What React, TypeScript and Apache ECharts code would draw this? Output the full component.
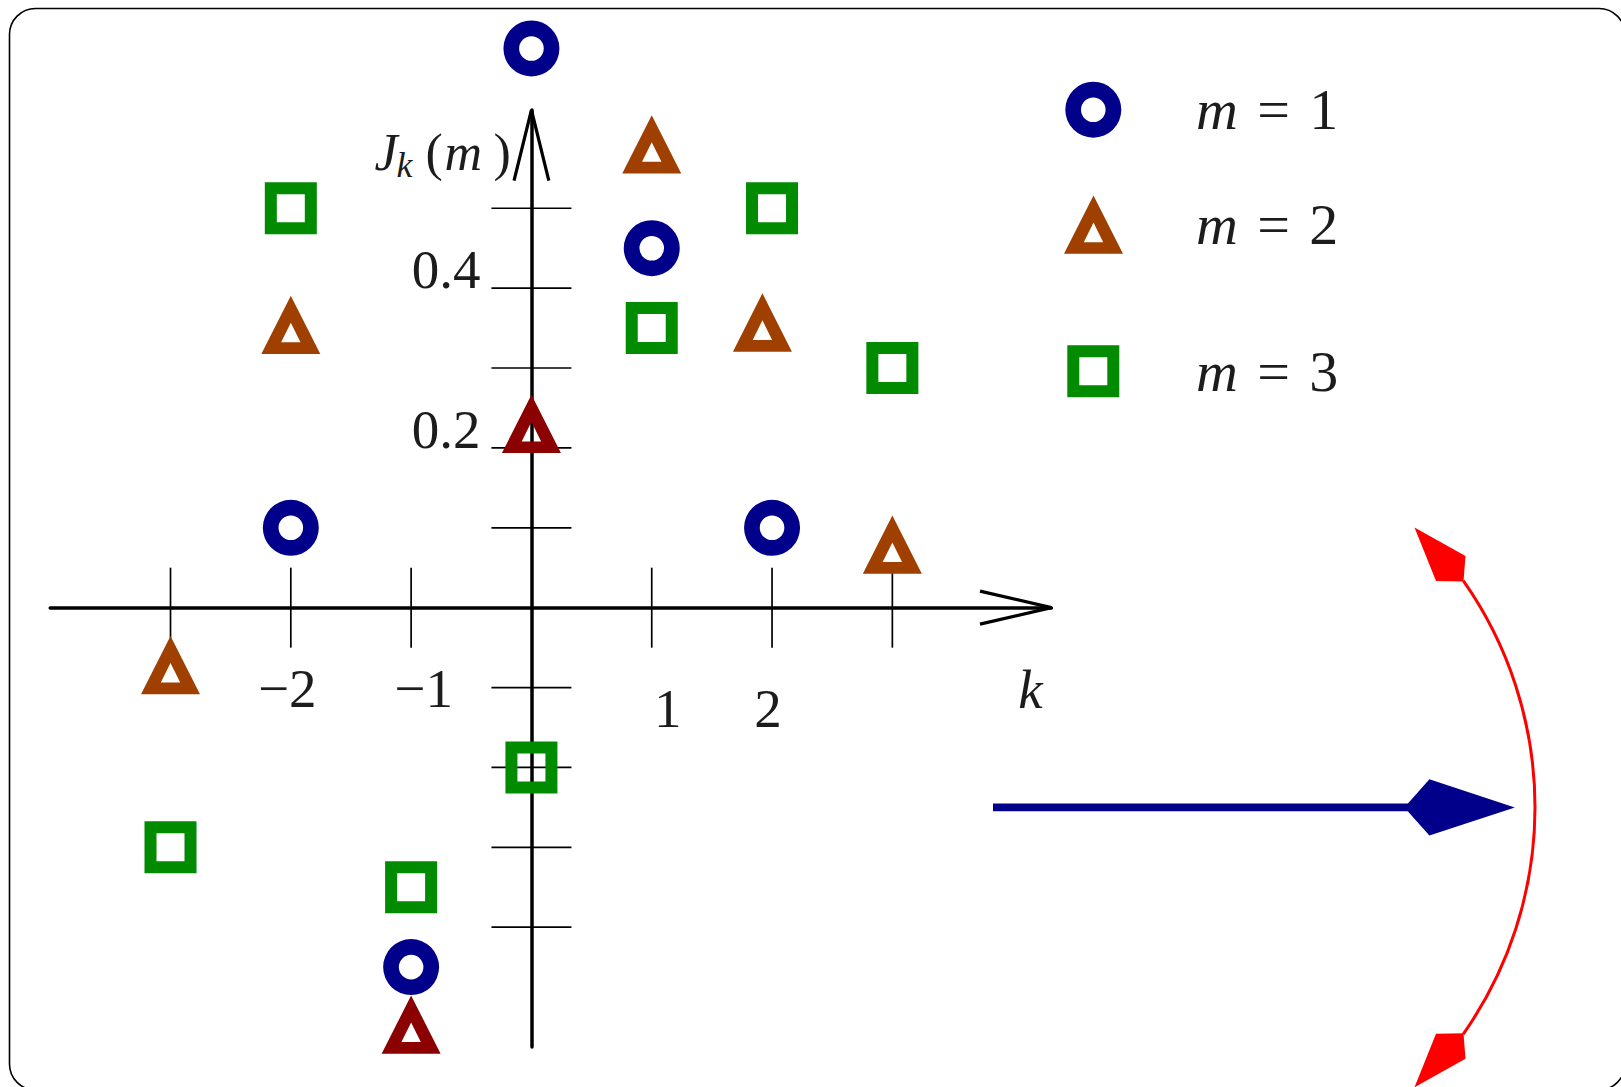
import { useEffect, useRef } from 'react';
import * as echarts from 'echarts';

// Bessel-style coefficients J_k(m), read per order k
const K_M1 = [-2, -1, 0, 1, 2];
const J_M1 = [0.1, -0.45, 0.7, 0.45, 0.1];

const K_M2 = [-3, -2, -1, 0, 1, 1.92, 3];
const J_M2 = [-0.072, 0.354, -0.522, 0.23, 0.58, 0.357, 0.079];

const K_M3 = [-3, -2, -1, 0, 1, 2, 3];
const J_M3 = [-0.3, 0.5, -0.35, -0.2, 0.35, 0.5, 0.3];

const SERIES_NAMES = ['m = 1', 'm = 2', 'm = 3'];

// axis ticks and their labels
const X_TICKS = [-3, -2, -1, 1, 2, 3];
const Y_TICKS = [-0.4, -0.3, -0.2, -0.1, 0.1, 0.2, 0.3, 0.4, 0.5];
const X_LABEL_VALUES = [-2, -1, 1, 2];
const X_LABELS = ['\u22122', '\u22121', '1', '2'];
const Y_LABEL_VALUES = [0.2, 0.4];
const Y_LABELS = ['0.2', '0.4'];

// axis extents (arrow tips sit at the max ends)
const X_MIN = -4;
const X_MAX = 4.322;
const Y_MIN = -0.55;
const Y_MAX = 0.623;

// ---- styling ----
const FONT = '"Liberation Serif", "DejaVu Serif", serif';
const INK = '#1c1c1c';
const NAVY = '#00008b';
const BROWN = '#a04000';
const DARK_RED = '#8b0000';
const GREEN = '#008b00';
const RED = '#ff0000';
const DARK_TRIANGLE_AT = new Set([-1, 0]);

// hollow marker outlines (outer contour + reversed inner contour)
const RING_PATH =
  'path://M0 28A28 28 0 1 1 56 28A28 28 0 1 1 0 28ZM15.7 28A12.3 12.3 0 1 0 40.3 28A12.3 12.3 0 1 0 15.7 28Z';
const TRIANGLE_PATH = 'path://M29.5 0L59 58.3L0 58.3ZM29.5 27L19.8 46.6L39.2 46.6Z';
const SQUARE_PATH = 'path://M0 0H52V52H0ZM12 12V40H40V12Z';

const RING_SIZE = [56, 56];
const TRIANGLE_SIZE = [59, 58.3];
const SQUARE_SIZE = [52, 52];

const TICK_HALF = 40;
const LABEL_SIZE = 55;
const LEGEND_TEXT_X = 1196;

// per-label nudges for the k tick labels: [dx, baseline below axis]
const X_LABEL_NUDGE = [
  [-3.5, 100],
  [12.5, 100],
  [16, 120],
  [-4, 120],
];

function txt(
  x: number,
  baseline: number,
  str: string,
  size: number,
  italic: boolean,
  align: string
) {
  return {
    type: 'text',
    x,
    y: baseline - 0.34 * size,
    style: {
      text: str,
      fill: INK,
      fontFamily: FONT,
      fontSize: size,
      fontStyle: italic ? 'italic' : 'normal',
      align,
      verticalAlign: 'middle',
    },
  };
}

function renderAxesDecor(_params: any, api: any) {
  const children: any[] = [];
  const tickStyle = { stroke: '#000', lineWidth: 1.7 };

  X_TICKS.forEach((k) => {
    const p = api.coord([k, 0]);
    children.push({
      type: 'line',
      shape: { x1: p[0], y1: p[1] - TICK_HALF, x2: p[0], y2: p[1] + TICK_HALF },
      style: tickStyle,
    });
  });
  Y_TICKS.forEach((v) => {
    const p = api.coord([0, v]);
    children.push({
      type: 'line',
      shape: { x1: p[0] - TICK_HALF, y1: p[1], x2: p[0] + TICK_HALF, y2: p[1] },
      style: tickStyle,
    });
  });

  // open arrowheads at the positive ends of both axes
  const xe = api.coord([X_MAX, 0]);
  children.push({
    type: 'polyline',
    shape: {
      points: [
        [xe[0] - 71.4, xe[1] - 16.5],
        [xe[0], xe[1]],
        [xe[0] - 71.4, xe[1] + 16.5],
      ],
    },
    style: { stroke: '#000', lineWidth: 3.2, fill: 'none', lineJoin: 'miter' },
  });
  const ye = api.coord([0, Y_MAX]);
  children.push({
    type: 'polyline',
    shape: {
      points: [
        [ye[0] - 17.4, ye[1] + 70.7],
        [ye[0], ye[1]],
        [ye[0] + 17.4, ye[1] + 70.7],
      ],
    },
    style: { stroke: '#000', lineWidth: 3.2, fill: 'none', lineJoin: 'miter' },
  });

  // tick labels
  X_LABEL_VALUES.forEach((k, i) => {
    const p = api.coord([k, 0]);
    const [dx, drop] = X_LABEL_NUDGE[i];
    children.push(txt(p[0] + dx, p[1] + drop, X_LABELS[i], LABEL_SIZE, false, 'center'));
  });
  Y_LABEL_VALUES.forEach((v, i) => {
    const p = api.coord([0, v]);
    children.push(txt(p[0] - 51, p[1], Y_LABELS[i], LABEL_SIZE, false, 'right'));
  });

  // axis names
  children.push(txt(xe[0] - 21, xe[1] + 101, 'k', LABEL_SIZE, true, 'center'));
  children.push(txt(ye[0] - 157, ye[1] + 60, 'J', 52, true, 'left'));
  children.push(txt(ye[0] - 135, ye[1] + 67, 'k', 36, true, 'left'));
  children.push(txt(ye[0] - 106, ye[1] + 60, '(', 52, false, 'left'));
  children.push(txt(ye[0] - 87, ye[1] + 60, 'm', 52, true, 'left'));
  children.push(txt(ye[0] - 38, ye[1] + 60, ')', 52, false, 'left'));

  return { type: 'group', children };
}

const LEGEND_ROWS = [
  { name: SERIES_NAMES[0], cx: 1093.3, cy: 108.7, w: RING_SIZE[0], h: RING_SIZE[1] },
  { name: SERIES_NAMES[1], cx: 1093.5, cy: 224.7, w: TRIANGLE_SIZE[0], h: TRIANGLE_SIZE[1] },
  { name: SERIES_NAMES[2], cx: 1093.3, cy: 368.3, w: SQUARE_SIZE[0], h: SQUARE_SIZE[1] },
];

function buildOption() {
  const pairs = (ks: number[], js: number[]) => ks.map((k, i) => [k, js[i]]);

  return {
    animation: false,
    backgroundColor: '#ffffff',
    grid: {
      left: 50.2,
      top: 110,
      width: 1001.2,
      height: 937,
      containLabel: false,
      outerBoundsMode: 'none',
    },
    xAxis: {
      type: 'value',
      min: X_MIN,
      max: X_MAX,
      axisLine: { show: true, onZero: true, lineStyle: { color: '#000', width: 3.5 } },
      axisTick: { show: false },
      axisLabel: { show: false },
      splitLine: { show: false },
    },
    yAxis: {
      type: 'value',
      min: Y_MIN,
      max: Y_MAX,
      axisLine: { show: true, onZero: true, lineStyle: { color: '#000', width: 3.5 } },
      axisTick: { show: false },
      axisLabel: { show: false },
      splitLine: { show: false },
    },
    legend: LEGEND_ROWS.map((r) => ({
      data: [r.name],
      left: r.cx - r.w / 2,
      top: r.cy - r.h / 2,
      padding: 0,
      itemWidth: r.w,
      itemHeight: r.h,
      selectedMode: false,
      // math-style spacing around the equals sign
      formatter: (n: string) => n.replace(/^m/, '{i|m}').replace(/ /g, '\u2004'),
      textStyle: {
        fontFamily: FONT,
        fontSize: 58,
        color: INK,
        padding: [0, 0, 0, LEGEND_TEXT_X - (r.cx + r.w / 2) - 5],
        rich: {
          i: { fontFamily: FONT, fontSize: 58, fontStyle: 'italic', color: INK },
        },
      },
    })),
    graphic: [
      // rounded frame, running off the right and bottom edges
      {
        type: 'rect',
        silent: true,
        z: -10,
        shape: { x: 9.5, y: 8.5, width: 1615.5, height: 1081.5, r: 26 },
        style: { fill: 'none', stroke: '#000', lineWidth: 1.6 },
      },
      // blue arrow
      {
        type: 'line',
        silent: true,
        shape: { x1: 993, y1: 807.4, x2: 1410, y2: 807.4 },
        style: { stroke: NAVY, lineWidth: 7.8 },
      },
      {
        type: 'polygon',
        silent: true,
        shape: {
          points: [
            [1514.8, 807.4],
            [1429.4, 779.3],
            [1404.4, 807.4],
            [1429.4, 835.5],
          ],
        },
        style: { fill: NAVY },
      },
      // red arc with arrowheads at both ends
      {
        type: 'arc',
        silent: true,
        shape: { cx: 1141, cy: 807.4, r: 394, startAngle: -0.613, endAngle: 0.613, clockwise: true },
        style: { stroke: RED, lineWidth: 3, fill: 'none' },
      },
      {
        type: 'polygon',
        silent: true,
        shape: {
          points: [
            [1414.5, 527.5],
            [1465.5, 556],
            [1463.5, 581.5],
            [1436, 581],
          ],
        },
        style: { fill: RED },
      },
      {
        type: 'polygon',
        silent: true,
        shape: {
          points: [
            [1414.5, 1087.3],
            [1465.5, 1058.8],
            [1463.5, 1033.3],
            [1436, 1033.8],
          ],
        },
        style: { fill: RED },
      },
    ],
    series: [
      {
        type: 'custom',
        name: 'axes',
        coordinateSystem: 'cartesian2d',
        clip: false,
        silent: true,
        z: 1,
        data: [[0, 0]],
        renderItem: renderAxesDecor,
      },
      {
        type: 'scatter',
        name: SERIES_NAMES[0],
        symbol: RING_PATH,
        symbolSize: RING_SIZE,
        clip: false,
        z: 3,
        itemStyle: { color: NAVY, opacity: 1 },
        data: pairs(K_M1, J_M1),
      },
      {
        type: 'scatter',
        name: SERIES_NAMES[1],
        symbol: TRIANGLE_PATH,
        symbolSize: TRIANGLE_SIZE,
        clip: false,
        z: 3,
        itemStyle: { color: BROWN, opacity: 1 },
        data: pairs(K_M2, J_M2).map((v) =>
          DARK_TRIANGLE_AT.has(v[0]) ? { value: v, itemStyle: { color: DARK_RED } } : v
        ),
      },
      {
        type: 'scatter',
        name: SERIES_NAMES[2],
        symbol: SQUARE_PATH,
        symbolSize: SQUARE_SIZE,
        clip: false,
        z: 3,
        itemStyle: { color: GREEN, opacity: 1 },
        data: pairs(K_M3, J_M3),
      },
    ],
  };
}

export default function App() {
  const ref = useRef<HTMLDivElement>(null);

  useEffect(() => {
    if (!ref.current) return;
    const chart = echarts.init(ref.current, null, { renderer: 'svg' });
    chart.setOption(buildOption() as any);
    return () => {
      chart.dispose();
    };
  }, []);

  return (
    <div
      ref={ref}
      style={{
        position: 'absolute',
        left: 0,
        top: 0,
        width: 1621,
        height: 1087,
        background: '#ffffff',
      }}
    />
  );
}
